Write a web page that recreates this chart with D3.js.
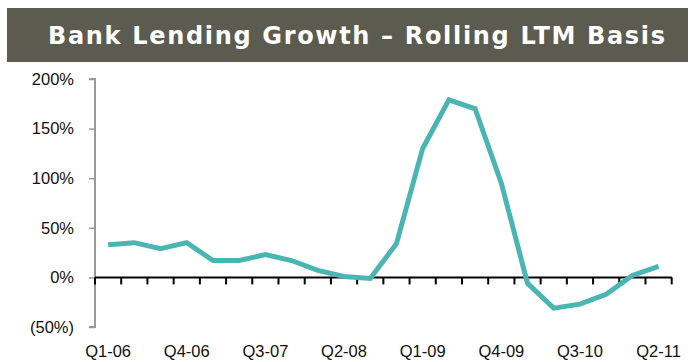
<!DOCTYPE html>
<html>
<head>
<meta charset="utf-8">
<script src="https://cdn.jsdelivr.net/npm/d3@7"></script>
<style>
  html, body { margin: 0; padding: 0; background: #fff; }
  svg { display: block; }
</style>
</head>
<body>
<svg id="chart" width="691" height="362"></svg>
<script>
// Quarterly bank lending growth, rolling last-twelve-months (%)
const quarters = [
  "Q1-06","Q2-06","Q3-06","Q4-06","Q1-07","Q2-07","Q3-07","Q4-07",
  "Q1-08","Q2-08","Q3-08","Q4-08","Q1-09","Q2-09","Q3-09","Q4-09",
  "Q1-10","Q2-10","Q3-10","Q4-10","Q1-11","Q2-11"
];
const growth = [
  33, 35, 29, 35, 17, 17, 23, 17,
  7, 1, -1, 34, 130, 179, 170, 95,
  -6, -31, -27, -17, 2, 11
];
const yTicks = [-50, 0, 50, 100, 150, 200];
const xLabelEvery = 3;
const title = "Bank Lending Growth \u2013 Rolling LTM Basis";

const svg = d3.select("#chart");
const font = "'Liberation Sans', Arial, sans-serif";

// Title banner
svg.append("rect")
  .attr("x", 7).attr("y", 8).attr("width", 681).attr("height", 54)
  .attr("fill", "#5b5b50");
svg.append("text")
  .attr("x", 48).attr("y", 44)
  .attr("text-anchor", "start")
  .attr("fill", "#ffffff")
  .attr("font-family", "'DejaVu Sans', Verdana, sans-serif")
  .attr("font-weight", "bold")
  .attr("font-size", 24)
  .attr("textLength", 617)
  .attr("lengthAdjust", "spacing")
  .text(title);

// Scales
const x = d3.scaleBand().domain(quarters).range([95, 671.7]).paddingInner(0).paddingOuter(0);
const y = d3.scaleLinear().domain([-50, 200]).range([327, 79]);

// Y axis (grey line with outward ticks)
const yAxis = svg.append("g").attr("transform", "translate(95,0)")
  .call(d3.axisLeft(y).tickValues(yTicks).tickSize(6).tickPadding(15)
    .tickFormat(d => d < 0 ? `(${Math.abs(d)}%)` : `${d}%`));
yAxis.select(".domain").attr("stroke", "#999").attr("stroke-width", 2)
  .attr("d", `M-6,${y(200)}H0V${y(-50)}H-6`);
yAxis.selectAll(".tick line").attr("stroke", "#999").attr("stroke-width", 1.5);
yAxis.selectAll(".tick text")
  .attr("font-family", font).attr("font-size", 16.5).attr("fill", "#111");

// Zero baseline with tick marks at each quarter boundary
const bounds = quarters.map(q => x(q)).concat([x.range()[1]]);
const y0 = y(0);
svg.append("line")
  .attr("x1", 95).attr("x2", x.range()[1])
  .attr("y1", y0).attr("y2", y0)
  .attr("stroke", "#000").attr("stroke-width", 2);
svg.append("g").selectAll("line").data(bounds).join("line")
  .attr("x1", d => d).attr("x2", d => d)
  .attr("y1", y0).attr("y2", y0 + 7)
  .attr("stroke", "#000").attr("stroke-width", 2);

// Category labels under the plot
svg.append("g").selectAll("text")
  .data(quarters.filter((q, i) => i % xLabelEvery === 0))
  .join("text")
  .attr("x", d => x(d) + x.bandwidth() / 2)
  .attr("y", 357)
  .attr("text-anchor", "middle")
  .attr("font-family", font).attr("font-size", 16.5).attr("fill", "#111")
  .text(d => d);

// Growth line
const line = d3.line()
  .x((d, i) => x(quarters[i]) + x.bandwidth() / 2)
  .y(d => y(d));
svg.append("path")
  .datum(growth)
  .attr("d", line)
  .attr("fill", "none")
  .attr("stroke", "#4bb5b4")
  .attr("stroke-width", 5)
  .attr("stroke-linejoin", "miter")
  .attr("stroke-linecap", "butt");
</script>
</body>
</html>
